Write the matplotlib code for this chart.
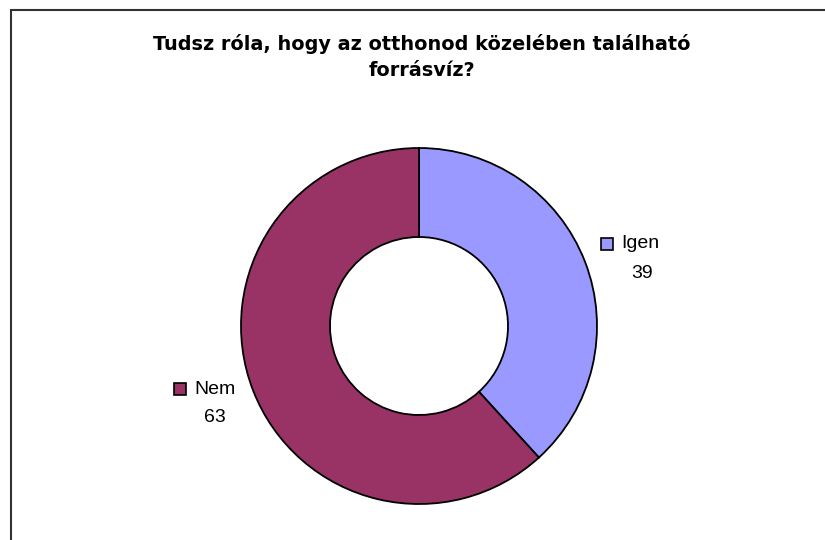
import numpy as np
import matplotlib.pyplot as plt
from matplotlib.patches import Rectangle

plt.rcParams['font.family'] = ['Liberation Sans', 'DejaVu Sans']

labels = ['Igen', 'Nem']
values = [39, 63]
colors = ['#9999FF', '#993366']
title = 'Tudsz róla, hogy az otthonod közelében található\nforrásvíz?'

W, H = 825, 540
fig = plt.figure(figsize=(W / 100, H / 100), dpi=100)
ax = fig.add_axes([0, 0, 1, 1])

# chart frame (only left and top edges visible)
ax.plot([11, 11, W], [0, H - 10, H - 10], color='#333333', lw=1.5,
        solid_capstyle='butt', solid_joinstyle='miter')

cx, cy, r = 419, H - 326, 178
wedges, _ = ax.pie(values, colors=colors, startangle=90, counterclock=False,
                   center=(cx, cy), radius=r, frame=True,
                   wedgeprops=dict(width=r * 0.5, edgecolor='black', linewidth=1.3))
ax.set_xlim(0, W)
ax.set_ylim(0, H)
ax.set_aspect('equal')
ax.axis('off')

# data labels: legend key + name + value
offsets = [(188, 82), (-239, -63)]
for w, lab, val, col, (dx, dy) in zip(wedges, labels, values, colors, offsets):
    x0, y0 = cx + dx, cy + dy
    ax.add_patch(Rectangle((x0 - 6, y0 - 6), 12, 12, facecolor=col,
                           edgecolor='black', lw=1.2))
    ax.text(x0 + 14, y0, lab, fontsize=14, va='center', ha='left')
    ax.text(x0 + 35, y0 - 29, str(val), fontsize=14, va='center', ha='center')

ax.text(422, H - 57, title, fontsize=13.9, fontweight='bold', ha='center',
        va='center', linespacing=1.5, family=['DejaVu Sans'])

fig.savefig('out.png', dpi=100)
